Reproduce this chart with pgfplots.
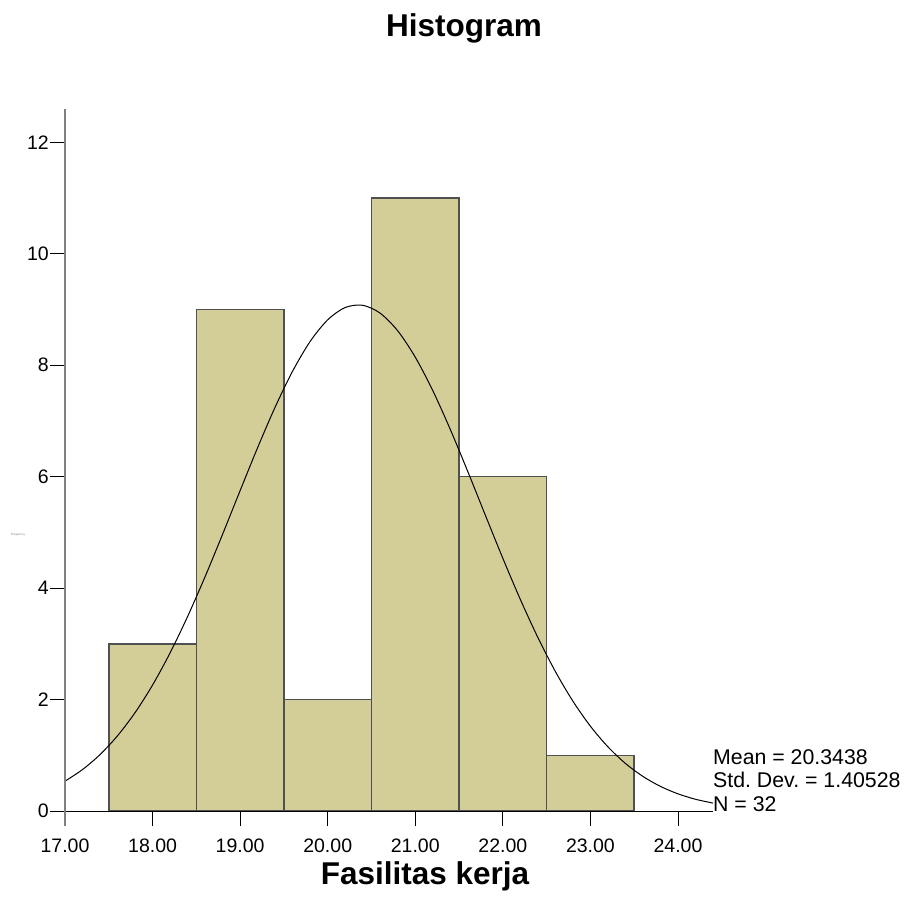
\documentclass[border=0pt]{standalone}
\usepackage{pgfplots}
\pgfplotsset{compat=1.18}
\usepackage{fontspec}
\setmainfont{Liberation Sans}
\definecolor{barfill}{HTML}{D3CE98}
\definecolor{baredge}{HTML}{505050}
\definecolor{spine}{HTML}{808080}
\frenchspacing
\begin{document}
\begin{tikzpicture}
\path[use as bounding box] (-65pt,-88pt) rectangle (841pt,811pt);
\begin{axis}[
  at={(0pt,0pt)}, anchor=south west,
  scale only axis, width=648pt, height=702pt,
  xmin=17, xmax=24.4, ymin=0, ymax=12.6,
  axis line style={draw=none},
  clip=false,
  xtick={17,18,19,20,21,22,23,24},
  xticklabels={17.00,18.00,19.00,20.00,21.00,22.00,23.00,24.00},
  ytick={0,2,4,6,8,10,12},
  yticklabels={0,2,4,6,8,10,12},
  xtick pos=bottom, ytick pos=left,
  tick align=outside,
  major tick length=15pt,
  tick style={black, line width=0.9pt},
  ticklabel style={font=\fontsize{19.5}{23}\selectfont},
  xticklabel style={yshift=-9pt},
  yticklabel style={inner sep=1pt},
]
\addplot[ybar interval, fill=barfill, draw=baredge, line width=1.5pt]
  coordinates {(17.5,3) (18.5,9) (19.5,2) (20.5,11) (21.5,6) (22.5,1) (23.5,1)};
\addplot[black, line width=1pt, smooth, mark=none] coordinates {
(17.0,0.5357) (17.2,0.7437) (17.4,1.0123) (17.6,1.3504) (17.8,1.7651)
(18.0,2.2606) (18.2,2.8375) (18.4,3.4900) (18.6,4.2065) (18.8,4.9683)
(19.0,5.7505) (19.2,6.5227) (19.4,7.2502) (19.6,7.8967) (19.8,8.4288)
(20.0,8.8161) (20.2,9.0366) (20.4,9.0767) (20.6,8.9343) (20.8,8.6177)
(21.0,8.1457) (21.2,7.5452) (21.4,6.8486) (21.6,6.0917) (21.8,5.3102)
(22.0,4.5358) (22.2,3.7968) (22.4,3.1144) (22.6,2.5035) (22.8,1.9720)
(23.0,1.5221) (23.2,1.1515) (23.4,0.8535) (23.6,0.6201) (23.8,0.4415)
(24.0,0.3079) (24.2,0.2105) (24.4,0.1420)};
\draw[black, line width=0.9pt] (axis cs:17,0) -- (axis cs:24.4,0);
\draw[spine, line width=2pt] (axis cs:17,-0.27) -- (axis cs:17,12.6);
\end{axis}
\node[anchor=base, font=\fontsize{31.5}{36}\selectfont\bfseries] at (399pt,774pt) {Histogram};
\node[anchor=base, font=\fontsize{31.5}{36}\selectfont\bfseries] at (360pt,-74pt) {Fasilitas kerja};
\node[anchor=base west, inner sep=0pt, font=\fontsize{21.3}{25}\selectfont] at (648pt,46pt) {Mean = 20.3438};
\node[anchor=base west, inner sep=0pt, font=\fontsize{21.3}{25}\selectfont] at (648pt,23pt) {Std. Dev. = 1.40528};
\node[anchor=base west, inner sep=0pt, font=\fontsize{21.3}{25}\selectfont] at (648pt,-1pt) {N = 32};
\node[inner sep=0pt, font=\fontsize{3}{3}\selectfont, gray] at (-47pt,276pt) {Frequency};
\end{tikzpicture}
\end{document}
